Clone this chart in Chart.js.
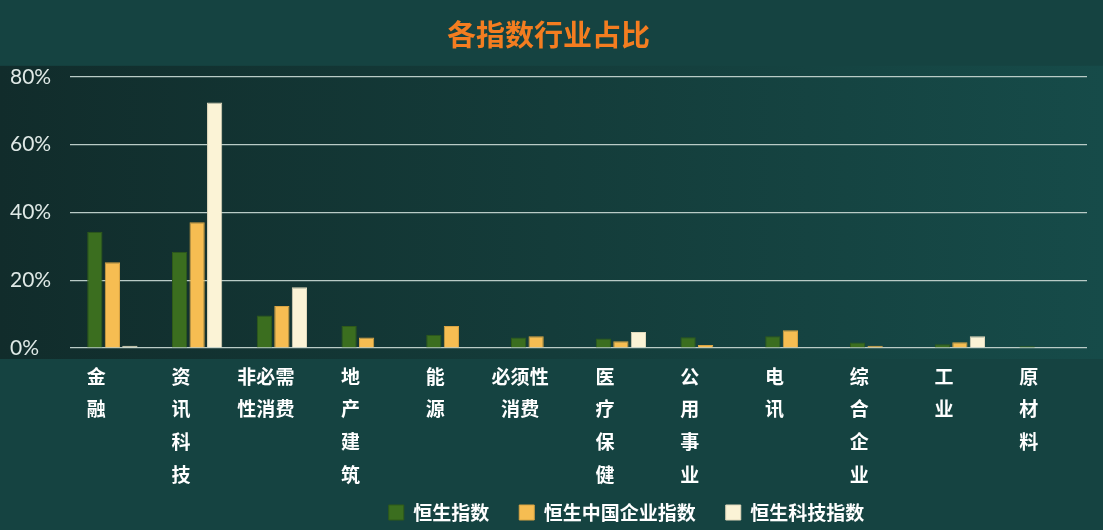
<!DOCTYPE html>
<html>
<head>
<meta charset="utf-8">
<script src="https://cdn.jsdelivr.net/npm/chart.js@4.4.1/dist/chart.umd.min.js"></script>
<style>
  html, body { margin: 0; padding: 0; background: #154341; }
  #wrap { width: 1103px; height: 530px; position: relative; }
</style>
</head>
<body>
<div id="wrap"><canvas id="sectorChart"></canvas></div>
<script>
// industry categories (multi-line labels as shown under each group)
const categories = [
  ["金", "融"],
  ["资", "讯", "科", "技"],
  ["非必需", "性消费"],
  ["地", "产", "建", "筑"],
  ["能", "源"],
  ["必须性", "消费"],
  ["医", "疗", "保", "健"],
  ["公", "用", "事", "业"],
  ["电", "讯"],
  ["综", "合", "企", "业"],
  ["工", "业"],
  ["原", "材", "料"],
];

// share of each index in percent
const hsiValues = [34.3, 28.4, 9.6, 6.5, 3.9, 3.1, 2.8, 3.2, 3.5, 1.6, 1.1, 0.5];
const hsceiValues = [25.3, 37.1, 12.4, 3.1, 6.5, 3.5, 2.0, 0.9, 5.2, 0.7, 1.7, 0];
const hstechValues = [0.7, 72.4, 17.9, 0, 0, 0, 4.7, 0, 0, 0, 3.5, 0];

const seriesNames = ["恒生指数", "恒生中国企业指数", "恒生科技指数"];
const yTicks = [0, 20, 40, 60, 80];

const cjkFont = "'Noto Sans CJK SC', 'Noto Sans', sans-serif";
// legend sits right of centre and a little higher in the original
const legendShiftX = 78;
const legendShiftY = -21;

// paints the page background and the darker band behind the plot
const backdrop = {
  id: "backdrop",
  afterLayout(chart) {
    const lg = chart.legend;
    lg.left += legendShiftX;
    lg.right += legendShiftX;
    lg.top += legendShiftY; // bottom stays put so nothing gets clipped
    lg.height -= legendShiftY;
  },
  beforeDraw(chart) {
    const { ctx, width, height, chartArea } = chart;
    ctx.save();
    ctx.fillStyle = "#154341";
    ctx.fillRect(0, 0, width, height);
    const top = chartArea.top - 11;
    const bottom = chartArea.bottom + 11;
    const grad = ctx.createLinearGradient(0, 0, width, 0);
    grad.addColorStop(0, "#112c2b");
    grad.addColorStop(0.5, "#143c3a");
    grad.addColorStop(1, "#164b49");
    ctx.fillStyle = grad;
    ctx.fillRect(0, top, width, bottom - top);
    ctx.restore();
  },
};

function createChart() {
  const ctx = document.getElementById("sectorChart").getContext("2d");
  new Chart(ctx, {
    type: "bar",
    data: {
      labels: categories,
      datasets: [
        {
          label: seriesNames[0],
          data: hsiValues,
          backgroundColor: "#3b6e1f",
          borderColor: "#2f5a19",
          borderWidth: 1,
        },
        {
          label: seriesNames[1],
          data: hsceiValues,
          backgroundColor: "#f6bd52",
          borderColor: "#d9a443",
          borderWidth: 1,
        },
        {
          label: seriesNames[2],
          data: hstechValues,
          backgroundColor: "#fbf3d6",
          borderColor: "#e0d8bc",
          borderWidth: 1,
        },
      ],
    },
    options: {
      responsive: true,
      maintainAspectRatio: false,
      animation: false,
      categoryPercentage: 0.62,
      barPercentage: 0.87,
      layout: { padding: { left: 10, right: 16, top: 0, bottom: 0 } },
      scales: {
        x: {
          grid: { display: false, drawTicks: false },
          border: { display: false },
          ticks: {
            color: "#ffffff",
            padding: 12,
            labelOffset: -16,
            maxRotation: 0,
            autoSkip: false,
            font: { family: cjkFont, size: 19, weight: "bold", lineHeight: 1.72 },
          },
          afterFit: (scale) => { scale.height = 146; },
        },
        y: {
          min: 0,
          max: 80,
          afterBuildTicks: (scale) => {
            scale.ticks = yTicks.map((v) => ({ value: v }));
          },
          grid: { color: "#b9cbc6", lineWidth: 1.2, drawTicks: false },
          border: { display: false },
          ticks: {
            color: "#dfe9e6",
            padding: 0,
            crossAlign: "far",
            font: { family: "Lato, 'DejaVu Sans', sans-serif", size: 21 },
            callback: (v) => v + "%",
          },
          afterFit: (scale) => { scale.width = 60; },
        },
      },
      plugins: {
        title: {
          display: true,
          text: "各指数行业占比",
          color: "#f47d20",
          font: { family: cjkFont, size: 29, weight: "bold" },
          padding: { top: 18, bottom: 24 },
        },
        legend: {
          display: true,
          position: "bottom",
          maxHeight: 36,
          labels: {
            color: "#ffffff",
            boxWidth: 15,
            boxHeight: 15,
            padding: 30,
            font: { family: cjkFont, size: 19, weight: "bold" },
          },
        },
        tooltip: { enabled: false },
      },
    },
    plugins: [backdrop],
  });
}

document.addEventListener("DOMContentLoaded", createChart);
</script>
</body>
</html>
